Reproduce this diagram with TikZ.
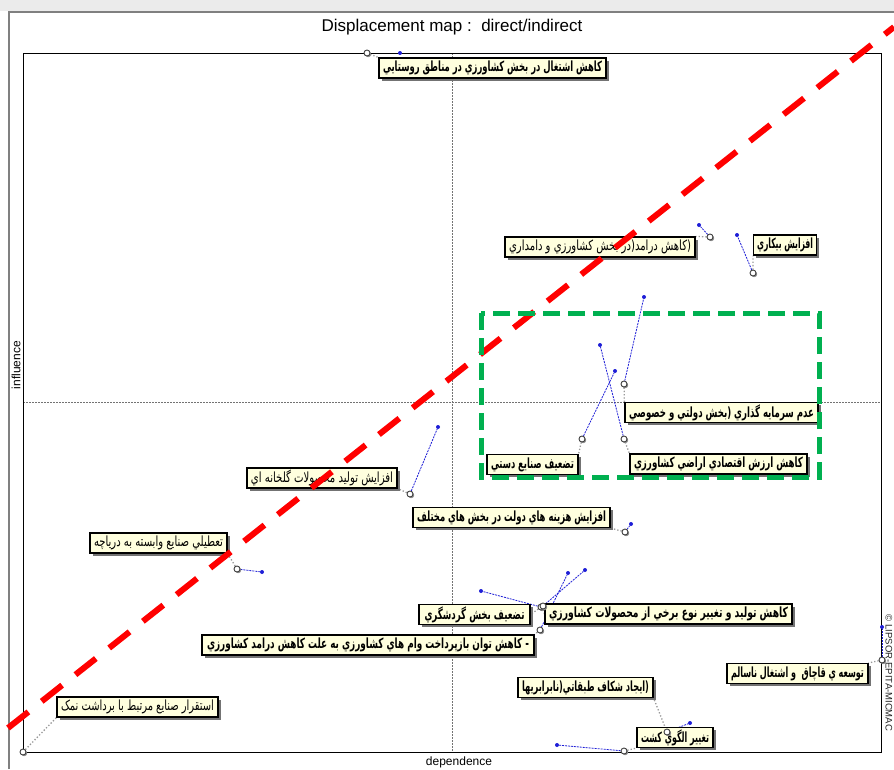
\documentclass[tikz,border=0pt]{standalone}
\usepackage{fontspec}
\usepackage{graphicx}
\usetikzlibrary{shadows}
\setmainfont{Liberation Sans}
\newfontfamily\ar[Script=Arabic]{DejaVu Sans}
\TeXXeTstate=1
\definecolor{cream}{RGB}{255,255,222}
\definecolor{mred}{RGB}{255,0,0}
\definecolor{mgreen}{RGB}{0,176,80}
\definecolor{mblue}{RGB}{30,30,215}
\newcommand\fa[2]{\resizebox{#1pt}{\height}{#2}}
\pgfdeclarelayer{bg}
\pgfsetlayers{bg,main}
\tikzset{
  lbl/.style={draw=black, line width=1.2pt, fill=cream, inner xsep=2pt, inner ysep=0pt,
    minimum height=20pt, font=\ar\bfseries\fontsize{14}{15}\selectfont,
    drop shadow={shadow xshift=2.5pt, shadow yshift=-2.5pt, fill=black!55, opacity=1}},
  lbln/.style={lbl, font=\ar\fontsize{14}{15}\selectfont},
  posc/.style={circle, draw=black!75, fill=white, line width=0.9pt, inner sep=0pt, minimum size=6pt,
    drop shadow={shadow xshift=1.2pt, shadow yshift=-1.2pt, fill=black!45, opacity=1}},
  dirdot/.style={circle, fill=mblue, inner sep=0pt, minimum size=4pt},
  move/.style={mblue, dash pattern=on 2pt off 1pt, line width=0.8pt},
  lead/.style={black!40, dotted, line width=1.3pt},
  midline/.style={black!55, dash pattern=on 1.5pt off 1.5pt, line width=0.6pt},
}
\begin{document}
\begin{tikzpicture}[x=1pt,y=-1pt]
\useasboundingbox (0,0) rectangle (894,769);
\begin{pgfonlayer}{bg}
\fill[white] (0,0) rectangle (894,769);
\fill[black!8] (0,0) rectangle (894,11);
\draw[midline] (452,53) -- (452,752);
\draw[midline] (23,402) -- (881,402);
\end{pgfonlayer}
\draw[black!50, line width=1.5pt] (9,769) -- (9,12) -- (894,12);
\draw[black, line width=1pt] (23,53) rectangle (881,752);

\node[font=\fontsize{17}{19}\selectfont] (title) at (452,27) {Displacement map :\ \ direct/indirect};
\node[rotate=90, font=\fontsize{12}{13}\selectfont] (infl) at (16,365) {influence};
\node[font=\fontsize{12}{13}\selectfont] (dep) at (459,762) {dependence};
\node[rotate=-90, font=\fontsize{9.5}{11}\selectfont, text=black!85] (copy) at (889,673) {© LIPSOR-EPITA-MICMAC};

% labels
\node[lbl, minimum width=227pt] (l1) at (492.5,68) {\fa{219}{\beginR کاهش اشتغال در بخش کشاورزي در مناطق روستايي\endR}};
\node[lbln, minimum width=190pt] (l2) at (600,247) {\fa{182}{\beginR (کاهش درامد(در بخش کشاورزي و دامداري\endR}};
\node[lbl, minimum width=63pt] (l3) at (785,245) {\fa{56}{\beginR افزايش بيکاري\endR}};
\node[lbl, minimum width=193pt] (l4) at (721.5,412.5) {\fa{185}{\beginR عدم سرمايه گذاري (بخش دولتي و خصوصي\endR}};
\node[lbl, minimum width=177pt] (l5) at (718.5,464) {\fa{169}{\beginR کاهش ارزش اقتصادي اراضي کشاورزي\endR}};
\node[lbl, minimum width=91pt] (l6) at (532.5,464.5) {\fa{83}{\beginR تضعيف صنايع دستي\endR}};
\node[lbln, minimum width=150pt] (l7) at (322,478) {\fa{142}{\beginR افزايش توليد محصولات گلخانه اي\endR}};
\node[lbl, minimum width=197pt] (l8) at (511.5,517.5) {\fa{189}{\beginR افزايش هزينه هاي دولت در بخش هاي مختلف\endR}};
\node[lbln, minimum width=137pt] (l9) at (158.5,543) {\fa{129}{\beginR تعطيلي صنايع وابسته به درياچه\endR}};
\node[lbl, minimum width=111pt] (l10) at (474.5,614.5) {\fa{100}{\beginR تضعيف بخش گردشگري\endR}};
\node[lbl, minimum width=247pt] (l11) at (668.5,614) {\fa{239}{\beginR کاهش توليد و تغيير نوع برخي از محصولات کشاورزي\endR}};
\node[lbl, minimum width=332pt] (l12) at (368,645) {\fa{322}{\beginR - کاهش توان بازپرداخت وام هاي کشاورزي به علت کاهش درامد کشاورزي\endR}};
\node[lbl, minimum width=141pt] (l13) at (797.5,673.5) {\fa{133}{\beginR توسعه ي قاچاق\ \ و اشتغال ناسالم\endR}};
\node[lbl, minimum width=135pt] (l14) at (585.5,687.5) {\fa{127}{\beginR (ايجاد شکاف طبقاتي(نابرابريها\endR}};
\node[lbl, minimum width=76pt] (l15) at (675,737.5) {\fa{68}{\beginR تغيير الگوي کشت\endR}};
\node[lbln, minimum width=161pt] (l16) at (137.5,707) {\fa{153}{\beginR استقرار صنايع مرتبط با برداشت نمک\endR}};

% direct positions
\node[dirdot] (d1) at (400,53) {};
\node[dirdot] (d2) at (699,225) {};
\node[dirdot] (d3) at (737,235) {};
\node[dirdot] (d4) at (644,297) {};
\node[dirdot] (d5) at (600,345) {};
\node[dirdot] (d6) at (615,371) {};
\node[dirdot] (d7) at (438,427) {};
\node[dirdot] (d8) at (631,524) {};
\node[dirdot] (d9) at (262,572) {};
\node[dirdot] (d10) at (481,591) {};
\node[dirdot] (d11) at (585,570) {};
\node[dirdot] (d12) at (568,573) {};
\node[dirdot] (d13) at (882,627) {};
\node[dirdot] (d14) at (690,723) {};
\node[dirdot] (d15) at (557,745) {};

% indirect positions
\node[posc] (c1) at (367,53) {};
\node[posc] (c2) at (710,237) {};
\node[posc] (c3) at (753,273) {};
\node[posc] (c4) at (624,384) {};
\node[posc] (c5) at (624,439) {};
\node[posc] (c6) at (582,439) {};
\node[posc] (c7) at (410,494) {};
\node[posc] (c8) at (625,532) {};
\node[posc] (c9) at (237,569) {};
\node[posc] (c10) at (541,607) {};
\node[posc] (c11) at (543,606) {};
\node[posc] (c12) at (540,630) {};
\node[posc] (c13) at (882,660) {};
\node[posc] (c14) at (667,732) {};
\node[posc] (c15) at (624,751) {};
\node[posc] (c16) at (23,752) {};

\begin{pgfonlayer}{bg}
\foreach \i in {1,...,15} {\draw[move] (c\i) -- (d\i);}
\draw[lead] (c1) -- (l1.north west);
\draw[lead] (c2) -- (l2.north east);
\draw[lead] (c3) -- (l3.south west);
\draw[lead] (c4) -- (l4.north west);
\draw[lead] (c5) -- (l5.north west);
\draw[lead] (c6) -- (l6.north east);
\draw[lead] (c7) -- (l7.south east);
\draw[lead] (c8) -- (l8.south east);
\draw[lead] (c9) -- (l9.south east);
\draw[lead] (c10) -- (l10.east);
\draw[lead] (c11) -- (l11.west);
\draw[lead] (c12) -- (l12.north east);
\draw[lead] (c13) -- (l13.north east);
\draw[lead] (c14) -- (l14.south east);
\draw[lead] (c15) -- (l15.south west);
\draw[lead] (c16) -- (l16.south west);
\end{pgfonlayer}

% highlights
\draw[mred, line width=6pt, dash pattern=on 26pt off 17pt] (8,728) -- (894,27);
\draw[mgreen, line width=5pt, dash pattern=on 17pt off 8pt] (481,313) rectangle (819,477);
\end{tikzpicture}
\end{document}
